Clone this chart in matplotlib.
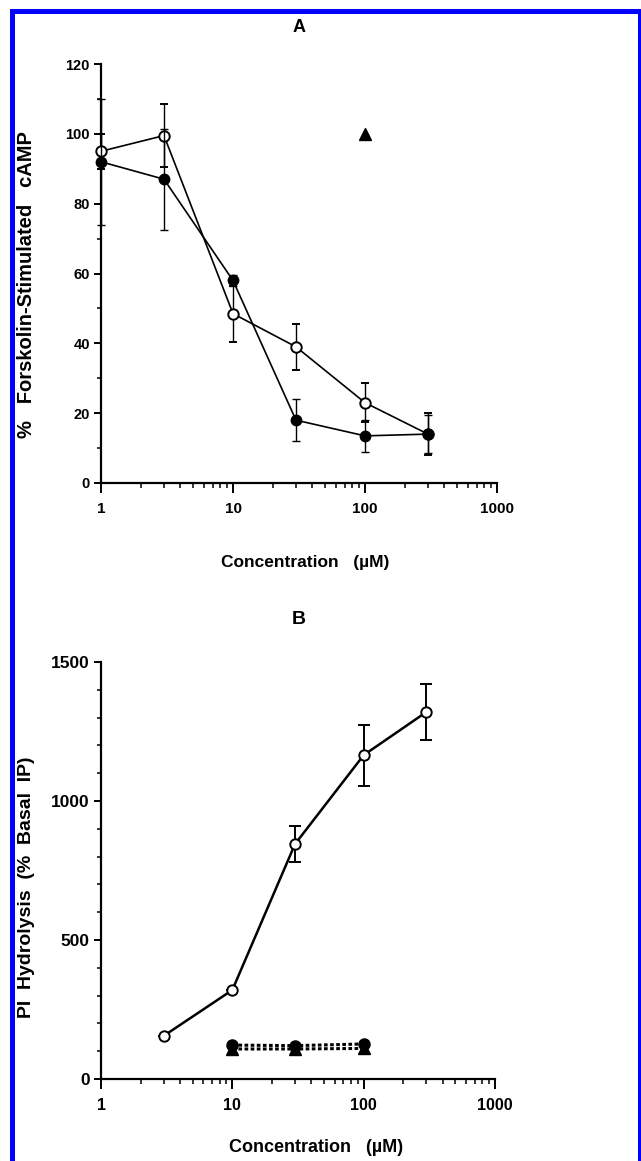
import numpy as np
import matplotlib.pyplot as plt
from matplotlib.patches import Rectangle
from matplotlib.ticker import FixedLocator, NullFormatter

plt.rcParams['font.family'] = ['Liberation Sans', 'DejaVu Sans']
plt.rcParams['font.weight'] = 'bold'

# Panel A: % forskolin-stimulated cAMP
conc_a = [1, 3, 10, 30, 100, 300]
open_a = [95, 99.5, 48.5, 39, 23, 14]
open_a_err = [5, 9, 8, 6.5, 5.5, 6]
filled_a = [92, 87, 58, 18, 13.5, 14]
filled_a_err = [18, 14.5, 1.5, 6, 4.5, 5.5]
tri_a_x = [100]
tri_a_y = [100]

# Panel B: PI hydrolysis (% basal IP)
conc_b = [3, 10, 30, 100, 300]
open_b = [155, 320, 845, 1165, 1320]
open_b_err = [0, 0, 65, 110, 100]
conc_b2 = [10, 30, 100]
filled_b = [122, 120, 126]
tri_b = [108, 108, 110]

W, H = 641, 1161
fig = plt.figure(figsize=(W / 100, H / 100), dpi=100)
fig.patches.append(Rectangle((11.5 / W, -0.05), (639.5 - 11.5) / W, 1.05 - 11.5 / H,
                             transform=fig.transFigure, fill=False,
                             edgecolor='#0000ff', linewidth=3.6, zorder=10))


def style_axes(ax, ymax, ymajor, yminor, xlabsize, ylabsize):
    ax.set_xscale('log')
    ax.set_xlim(1, 1000)
    ax.set_ylim(0, ymax)
    for s in ['top', 'right']:
        ax.spines[s].set_visible(False)
    for s in ['left', 'bottom']:
        ax.spines[s].set_linewidth(1.6)
    ax.set_xticks([1, 10, 100, 1000])
    ax.set_xticklabels(['1', '10', '100', '1000'])
    ax.xaxis.set_minor_locator(FixedLocator(
        [m * d for d in [1, 10, 100] for m in range(2, 10)]))
    ax.xaxis.set_minor_formatter(NullFormatter())
    ax.set_yticks(ymajor)
    ax.yaxis.set_minor_locator(FixedLocator(yminor))
    ax.tick_params(axis='x', which='major', direction='out', length=7, width=1.4,
                   pad=7, labelsize=xlabsize)
    ax.tick_params(axis='x', which='minor', direction='out', length=3.5, width=1.1)
    ax.tick_params(axis='y', which='major', direction='out', length=5, width=1.4,
                   pad=3, labelsize=ylabsize)
    ax.tick_params(axis='y', which='minor', direction='out', length=3, width=1.1)


# ---- Panel A ----
axA = fig.add_axes([101 / W, (H - 483) / H, 396 / W, 419 / H])
style_axes(axA, 120, [0, 20, 40, 60, 80, 100, 120], [10, 30, 50, 70, 90, 110], 11, 10.5)
axA.errorbar(conc_a, open_a, yerr=open_a_err, color='black', lw=1.2, elinewidth=1.0,
             capsize=3, capthick=1.0, marker='o', ms=7.5, mfc='white', mec='black',
             mew=1.4, clip_on=False, zorder=3)
axA.errorbar(conc_a, filled_a, yerr=filled_a_err, color='black', lw=1.2, elinewidth=1.0,
             capsize=3, capthick=1.0, marker='o', ms=7.5, mfc='black', mec='black',
             clip_on=False, zorder=4)
axA.plot(tri_a_x, tri_a_y, linestyle='none', marker='^', ms=8, color='black')
fig.text(27 / W, 1 - 285 / H, '%   Forskolin-Stimulated   cAMP', rotation=90,
         ha='center', va='center', fontsize=14.5, fontweight='bold')
fig.text(305 / W, 1 - 562 / H, 'Concentration   (µM)', ha='center', va='center',
         fontsize=12.5, fontweight='bold')
fig.text(299 / W, 1 - 27 / H, 'A', ha='center', va='center', fontsize=13, fontweight='bold')

# ---- Panel B ----
axB = fig.add_axes([101 / W, (H - 1079) / H, 394 / W, 417 / H])
style_axes(axB, 1500, [0, 500, 1000, 1500],
           [v for v in range(100, 1500, 100) if v % 500], 11.5, 12.5)
axB.errorbar(conc_b, open_b, yerr=open_b_err, color='black', lw=1.8, elinewidth=1.4,
             capsize=4, capthick=1.4, marker='o', ms=7.5, mfc='white', mec='black',
             mew=1.4, clip_on=False, zorder=3)
axB.plot(conc_b2, tri_b, linestyle=(0, (1.2, 0.8)), lw=2.2, marker='^', ms=8,
         color='black', zorder=3)
axB.plot(conc_b2, filled_b, linestyle=(0, (1.2, 0.8)), lw=2.2, marker='o', ms=8,
         color='black', zorder=4)
fig.text(27 / W, 1 - 887 / H, 'PI  Hydrolysis  (%  Basal  IP)', rotation=90,
         ha='center', va='center', fontsize=14, fontweight='bold')
fig.text(316 / W, 1 - 1147 / H, 'Concentration   (µM)', ha='center', va='center',
         fontsize=13, fontweight='bold')
fig.text(299 / W, 1 - 619 / H, 'B', ha='center', va='center', fontsize=14, fontweight='bold')

fig.savefig('out.png', dpi=100)
